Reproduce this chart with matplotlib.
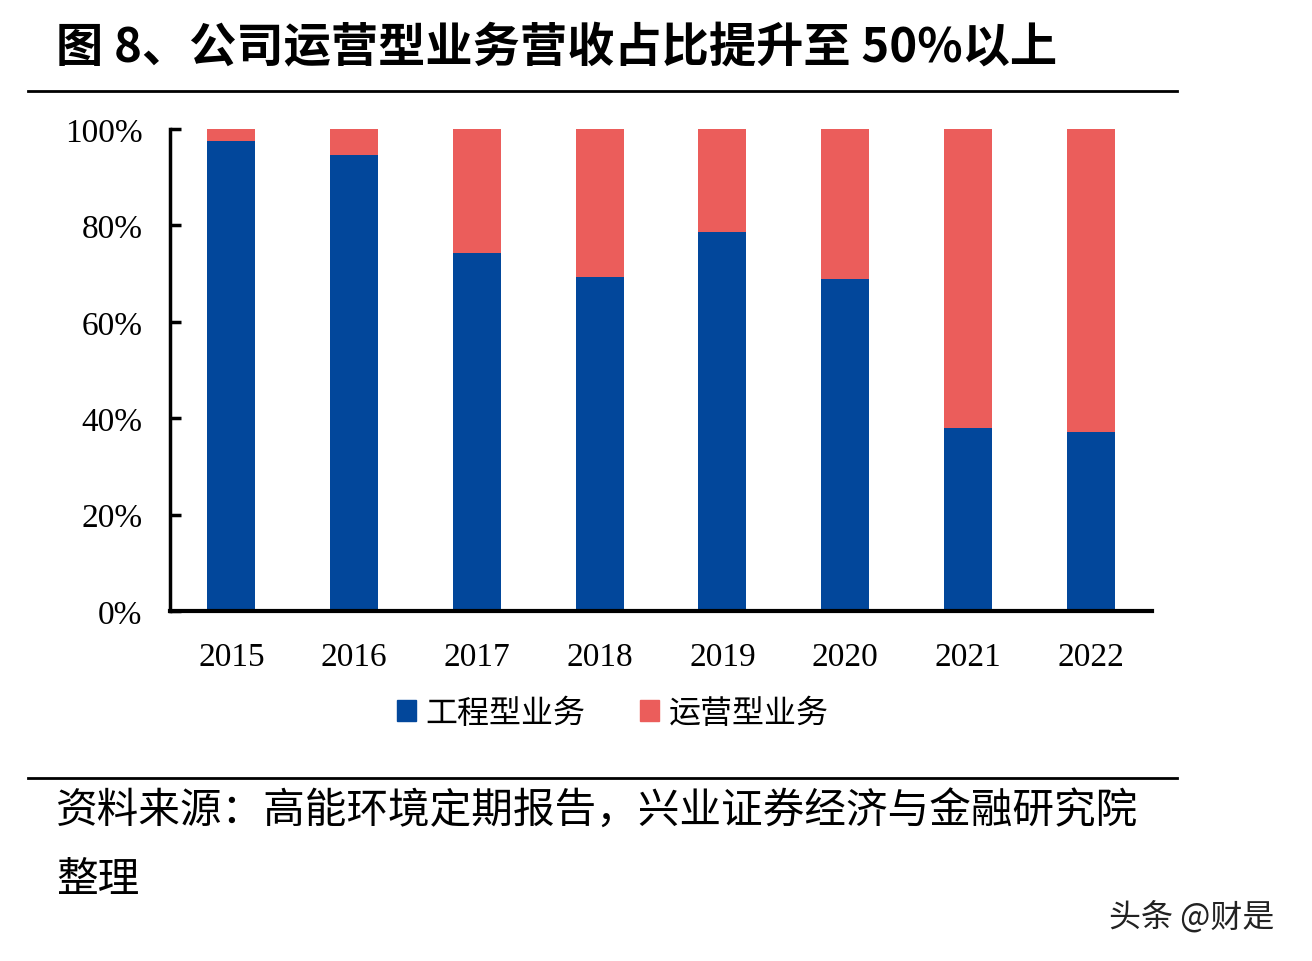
# 图8 公司运营型业务营收占比 - stacked 100% bar
import numpy as np
import matplotlib.pyplot as plt
from matplotlib.lines import Line2D
from matplotlib.patches import Patch

plt.rcParams['font.family'] = ['Noto Sans CJK SC', 'DejaVu Sans']

# Data
years = ['2015', '2016', '2017', '2018', '2019', '2020', '2021', '2022']
engineering = [97.5, 94.6, 74.3, 69.3, 78.6, 68.9, 38.0, 37.1]   # 工程型业务 %
operation = [100 - v for v in engineering]                        # 运营型业务 %
yticks = [0, 20, 40, 60, 80, 100]

blue = '#02479B'
red = '#EB5D5B'

fig = plt.figure(figsize=(13.12, 9.62), dpi=100)
ax = fig.add_axes([0.1296, 0.3638, 0.7484, 0.501])

x = np.arange(len(years))
ax.bar(x, engineering, width=0.39, color=blue, label='工程型业务')
ax.bar(x, operation, width=0.39, bottom=engineering, color=red, label='运营型业务')

ax.set_xlim(-0.5, len(years) - 0.5)
ax.set_ylim(0, 100)
ax.set_yticks(yticks)
ax.set_yticklabels([f'{v}%' for v in yticks], family='Liberation Serif', fontsize=24)
ax.set_xticks(x)
ax.set_xticklabels(years, family='Liberation Serif', fontsize=24)
ax.tick_params(axis='y', direction='in', length=8, width=2.5, pad=20)
ax.tick_params(axis='x', length=0, pad=22)
for s in ['top', 'right']:
    ax.spines[s].set_visible(False)
ax.spines['left'].set_linewidth(2.5)
ax.spines['bottom'].set_linewidth(3)

# legend
handles = [Patch(color=blue), Patch(color=red)]
fig.legend(handles, ['工程型业务', '运营型业务'], loc='center', bbox_to_anchor=(0.467, 0.258),
           ncol=2, frameon=False, fontsize=23, handlelength=0.6, handleheight=0.6,
           handletextpad=0.3, columnspacing=1.7)

# title and rules
fig.text(0.043, 0.95, '图 8、公司运营型业务营收占比提升至 50%以上', fontsize=34,
         fontweight='bold', va='center', ha='left')
fig.add_artist(Line2D([0.021, 0.897], [0.904, 0.904], color='black', lw=2))
fig.add_artist(Line2D([0.021, 0.897], [0.19, 0.19], color='black', lw=2))

# source note
fig.text(0.043, 0.156, '资料来源：高能环境定期报告，兴业证券经济与金融研究院', fontsize=30,
         va='center', ha='left')
fig.text(0.043, 0.085, '整理', fontsize=30, va='center', ha='left')
fig.text(0.845, 0.046, '头条 @财是', fontsize=23, va='center', ha='left', color='#222222')

fig.savefig('out.png', dpi=100)
